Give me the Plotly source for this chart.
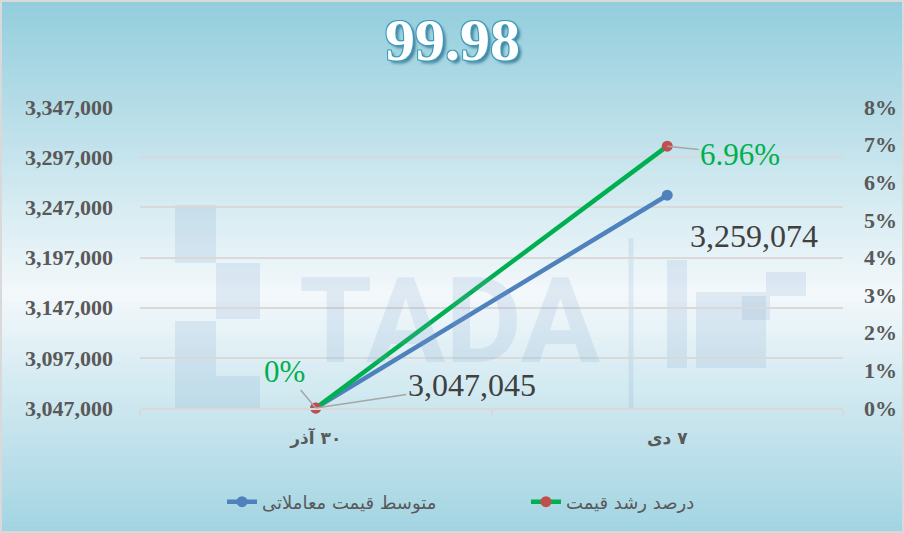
import plotly.graph_objects as go

# ---- data ----
categories = ["\u200F۳۰ آذر", "\u200F۷ دی"]
avg_price = [3047045, 3259074]
growth_pct = [0.0, 0.0696]
avg_labels = ["3,047,045", "3,259,074"]
growth_labels = ["0%", "6.96%"]
left_ticks = [3047000, 3097000, 3147000, 3197000, 3247000, 3297000, 3347000]
right_ticks = [0, 0.01, 0.02, 0.03, 0.04, 0.05, 0.06, 0.07, 0.08]
series_names = ["متوسط قیمت معاملاتی", "درصد رشد قیمت"]
title_text = "99.98"
watermark = "TADA"

W, H = 904, 533
ML, MR, MT, MB = 140, 61, 107, 125
PW, PH = W - ML - MR, H - MT - MB


def px(x):
    return (x - ML) / PW


def py(y):
    return (H - MB - y) / PH


fig = go.Figure()

fig.add_trace(go.Scatter(
    x=categories, y=avg_price, name=series_names[0], mode="lines+markers",
    line=dict(color="#4F81BD", width=4.5),
    marker=dict(color="#4F81BD", size=11), yaxis="y", cliponaxis=False))
fig.add_trace(go.Scatter(
    x=categories, y=growth_pct, name=series_names[1], mode="lines+markers",
    line=dict(color="#00B050", width=4.5),
    marker=dict(color="#C0504D", size=11), yaxis="y2", cliponaxis=False))

# ---- background gradient (styling) ----
shapes = []
N = 90
stops = [(0.0, (146, 205, 220)), (0.55, (243, 248, 251)), (1.0, (162, 212, 226))]


def col(t):
    for (t0, c0), (t1, c1) in zip(stops[:-1], stops[1:]):
        if t <= t1:
            f = (t - t0) / (t1 - t0)
            return "rgb(%d,%d,%d)" % tuple(round(a + (b - a) * f) for a, b in zip(c0, c1))
    return "rgb(%d,%d,%d)" % stops[-1][1]


for i in range(N):
    y0 = H * i / N
    y1 = H * (i + 1) / N + 0.8
    shapes.append(dict(type="rect", xref="paper", yref="paper", layer="below",
                       x0=px(0), x1=px(W), y0=py(y1), y1=py(y0),
                       fillcolor=col((i + 0.5) / N), line=dict(width=0)))

# watermark logo pieces
wm = "rgba(120,160,200,0.17)"
for (x0, y0, x1, y1) in [(175, 205, 216, 263), (216, 263, 260, 319), (175, 321, 216, 408),
                         (216, 376, 260, 408), (667, 260, 687, 368), (696, 292, 734, 368),
                         (734, 292, 766, 368), (766, 272, 806, 296), (742, 296, 770, 320)]:
    shapes.append(dict(type="rect", xref="paper", yref="paper", layer="below",
                       x0=px(x0), x1=px(x1), y0=py(y1), y1=py(y0),
                       fillcolor=wm, line=dict(width=0)))
shapes.append(dict(type="line", xref="paper", yref="paper", layer="below",
                   x0=px(631), x1=px(631), y0=py(410), y1=py(238),
                   line=dict(color=wm, width=5)))

# frame
shapes.append(dict(type="rect", xref="paper", yref="paper", layer="above",
                   x0=px(1), x1=px(W - 1), y0=py(H - 1), y1=py(1),
                   line=dict(color="#D9D9D9", width=2), fillcolor="rgba(0,0,0,0)"))

annotations = [
    dict(text=watermark, xref="paper", yref="paper", x=px(449), y=py(322),
         xanchor="center", yanchor="middle", showarrow=False,
         font=dict(family="Roboto", size=118, color=wm, weight="bold")),
    dict(text=title_text, xref="paper", yref="paper", x=px(452), y=py(40),
         xanchor="center", yanchor="middle", showarrow=False,
         font=dict(family="Liberation Serif", size=60, color="white", weight="bold",
                   shadow="1px 1px 0 #3d9bbd, -1px -1px 0 #3d9bbd, 1px -1px 0 #3d9bbd, "
                          "-1px 1px 0 #3d9bbd, 3px 3px 3px rgba(40,110,140,0.8)")),
]

leader = dict(showarrow=True, arrowhead=0, arrowcolor="#A6A6A6", arrowwidth=1.5, standoff=0)
annotations += [
    dict(x=categories[0], y=growth_pct[0], xref="x", yref="y2", text=growth_labels[0],
         ax=-31, ay=-37, font=dict(family="Liberation Serif", size=31, color="#00B050"), **leader),
    dict(x=categories[1], y=growth_pct[1], xref="x", yref="y2", text=growth_labels[1],
         ax=73, ay=8, font=dict(family="Liberation Serif", size=31, color="#00B050"), **leader),
    dict(x=categories[0], y=avg_price[0], xref="x", yref="y", text=avg_labels[0],
         ax=156, ay=-23, font=dict(family="Liberation Serif", size=32, color="#404040"), **leader),
    dict(x=categories[1], y=avg_price[1], xref="x", yref="y", text=avg_labels[1],
         ax=87, ay=41, font=dict(family="Liberation Serif", size=32, color="#404040"), **leader),
]

tickfont = dict(family="Liberation Serif", size=22, color="#595959", weight="bold")

fig.update_layout(
    width=W, height=H,
    margin=dict(l=ML, r=MR, t=MT, b=MB, pad=0, autoexpand=False),
    paper_bgcolor="rgba(0,0,0,0)", plot_bgcolor="rgba(0,0,0,0)",
    shapes=shapes, annotations=annotations,
    showlegend=True,
    legend=dict(orientation="h", x=px(222), xanchor="left", y=py(502), yanchor="middle",
                font=dict(family="DejaVu Sans", size=18, color="#595959"),
                bgcolor="rgba(0,0,0,0)", entrywidth=259, entrywidthmode="pixels"),
    xaxis=dict(type="category", range=[-0.5, 1.5], autorange=False,
               showgrid=False, showline=True, linecolor="#D9D9D9", linewidth=2,
               ticks="outside", tickson="boundaries", ticklen=6, tickcolor="#D9D9D9", tickwidth=2,
               tickfont=dict(family="DejaVu Sans", size=17, color="#595959", weight="bold"),
               ticklabelstandoff=14, fixedrange=True),
    yaxis=dict(range=[3047000, 3347000], autorange=False, tickvals=left_ticks, tickformat=",d",
               showgrid=True, gridcolor="#D9D9D9", gridwidth=2, zeroline=False,
               showline=False, ticks="", tickfont=tickfont, ticklabelstandoff=26),
    yaxis2=dict(range=[0, 0.08], autorange=False, tickvals=right_ticks, tickformat=".0%",
                overlaying="y", side="right", showgrid=False, zeroline=False, showline=False,
                ticks="", tickfont=tickfont, ticklabelstandoff=20),
)

fig.write_html("out.html", config={"displayModeBar": False},
               post_script="document.body.style.margin='0';")
